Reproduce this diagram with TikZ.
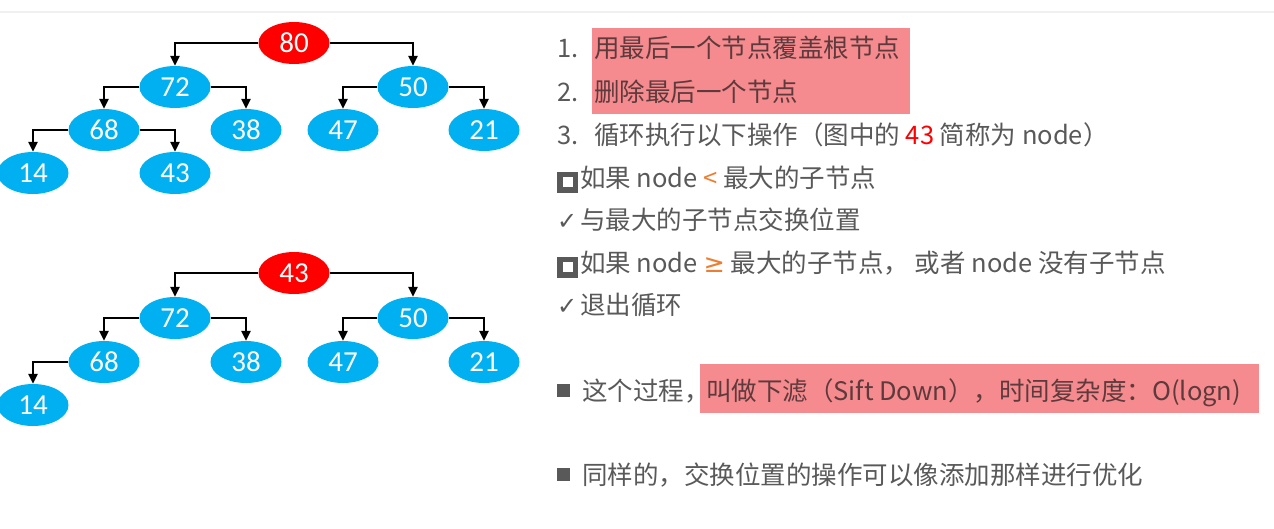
\documentclass[tikz,border=0pt]{standalone}
\usepackage{fontspec}
\usepackage{xcolor}
\setmainfont{Carlito}
\newfontfamily\cjkfont{Noto Sans CJK SC}
\newfontfamily\symfont{DejaVu Sans}
\usetikzlibrary{arrows.meta, positioning, fit, backgrounds, shapes.geometric}

\definecolor{heapblue}{HTML}{00B0F0}
\definecolor{heapred}{HTML}{FF0000}
\definecolor{txtgray}{HTML}{595959}
\definecolor{hlpink}{HTML}{F58B8E}
\definecolor{hltext}{HTML}{5E3A3C}
\definecolor{oporange}{HTML}{ED7D31}
\definecolor{rulegray}{HTML}{F0F0F0}

% bullets
\newcommand{\hollowsq}{\makebox[23pt][l]{\setlength{\fboxrule}{5.5pt}\setlength{\fboxsep}{0pt}\fbox{\rule{0pt}{10pt}\hspace{10pt}}}}
\newcommand{\solidsq}{\makebox[25pt][l]{\raisebox{3.5pt}{\rule{13pt}{13pt}}}}
\newcommand{\tick}{\makebox[23pt][l]{\symfont\fontsize{24}{24}\selectfont ✓}}

\begin{document}
\begin{tikzpicture}[x=1pt, y=-1pt,
  heapnode/.style={ellipse, fill=heapblue, minimum width=71pt, minimum height=42pt, inner sep=0pt, text=white, font=\fontsize{29}{29}\selectfont},
  rootnode/.style={heapnode, fill=heapred},
  arr/.style={-{Triangle[length=10pt, width=9pt]}, line width=2.7pt},
  txt/.style={anchor=base west, inner sep=0pt, text height=22pt, text depth=5pt, text=txtgray, font=\cjkfont\fontsize{25.5}{30}\selectfont},
  hl/.style={fill=hlpink, text=hltext},
]
  \useasboundingbox (0,0) rectangle (1274,528);
  \begin{scope}[on background layer]
    \fill[white] (0,0) rectangle (1274,528);
    \fill[rulegray] (0,11) rectangle (1274,13);
  \end{scope}

  % Heap before sift down
  \node[rootnode] (a80) at (294,43) {80};
  \node[heapnode] (a72) at (175,87) {72};
  \node[heapnode] (a50) at (413,87) {50};
  \node[heapnode] (a68) at (104,130) {68};
  \node[heapnode] (a38) at (246,130) {38};
  \node[heapnode] (a47) at (343,130) {47};
  \node[heapnode] (a21) at (484,130) {21};
  \node[heapnode] (a14) at (33,173) {14};
  \node[heapnode] (a43) at (175,173) {43};

  \draw[arr] (a80.west) -| (a72.north);
  \draw[arr] (a80.east) -| (a50.north);
  \draw[arr] (a72.west) -| (a68.north);
  \draw[arr] (a72.east) -| (a38.north);
  \draw[arr] (a50.west) -| (a47.north);
  \draw[arr] (a50.east) -| (a21.north);
  \draw[arr] (a68.west) -| (a14.north);
  \draw[arr] (a68.east) -| (a43.north);

  % Heap after moving the last node to the root
  \node[rootnode] (b43) at (294,273) {43};
  \node[heapnode] (b72) at (175,318) {72};
  \node[heapnode] (b50) at (413,318) {50};
  \node[heapnode] (b68) at (104,362) {68};
  \node[heapnode] (b38) at (246,362) {38};
  \node[heapnode] (b47) at (343,362) {47};
  \node[heapnode] (b21) at (484,362) {21};
  \node[heapnode] (b14) at (33,405) {14};

  \draw[arr] (b43.west) -| (b72.north);
  \draw[arr] (b43.east) -| (b50.north);
  \draw[arr] (b72.west) -| (b68.north);
  \draw[arr] (b72.east) -| (b38.north);
  \draw[arr] (b50.west) -| (b47.north);
  \draw[arr] (b50.east) -| (b21.north);
  \draw[arr] (b68.west) -| (b14.north);

  % Steps
  \node[txt] (n1) at (557,57) {1.};
  \node[txt, text=hltext] (s1) at (594,57) {用最后一个节点覆盖根节点};
  \node[txt] (n2) at (557,101.5) {2.};
  \node[txt, text=hltext] (s2) at (594,101.5) {删除最后一个节点};
  \begin{scope}[on background layer]
    \node[fill=hlpink, inner xsep=0pt, inner ysep=7pt, fit=(s1)(s2), xshift=4pt, minimum width=318pt] (hl1) {};
  \end{scope}
  \node[txt] (n3) at (557,144) {\makebox[37pt][l]{3.}循环执行以下操作（图中的 \textcolor{heapred}{43} 简称为 node）};
  \node[txt] (c1) at (557,187) {\hollowsq 如果 node \textcolor{oporange}{<} 最大的子节点};
  \node[txt] (c1a) at (557,229.5) {\tick 与最大的子节点交换位置};
  \node[txt] (c2) at (557,272) {\hollowsq 如果 node \textcolor{oporange}{\symfont ≥} 最大的子节点， 或者 node 没有子节点};
  \node[txt] (c2a) at (557,314) {\tick 退出循环};

  % Notes
  \node[txt] (m1) at (557,400) {\solidsq 这个过程，};
  \node[txt, hl, inner xsep=6pt, text height=36.5pt, text depth=12.5pt, right=-10pt of m1.base east, anchor=base west] (m1b) {叫做下滤（Sift Down），时间复杂度：O(logn)\kern12pt\relax};
  \node[txt] (m2) at (557,484) {\solidsq 同样的，交换位置的操作可以像添加那样进行优化};
\end{tikzpicture}
\end{document}
